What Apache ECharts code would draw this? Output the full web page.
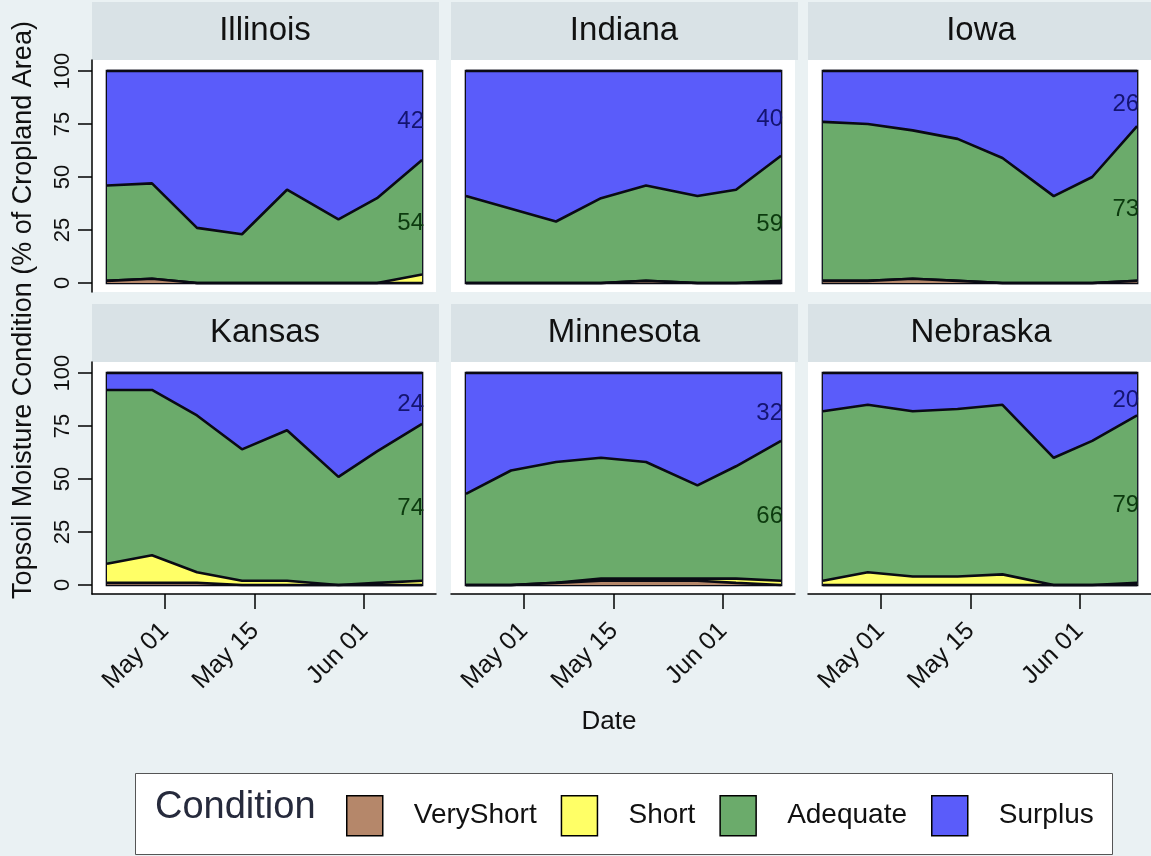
<!DOCTYPE html>
<html><head><meta charset="utf-8">
<script src="https://cdn.jsdelivr.net/npm/echarts@6/dist/echarts.min.js"></script>
<style>html,body{margin:0;padding:0;background:#EAF1F3;} #c{width:1151px;height:856px;}</style>
</head><body><div id="c"></div><script>
// ---------------- data ----------------
const dates = ['2019-04-22','2019-04-29','2019-05-06','2019-05-13','2019-05-20','2019-05-28','2019-06-03','2019-06-10'];
const states = ['Illinois','Indiana','Iowa','Kansas','Minnesota','Nebraska'];
const conditions = ['VeryShort','Short','Adequate','Surplus'];
// one row per state, same order as `states`
const veryShort = [
  [1,2,0,0,0,0,0,0],
  [0,0,0,0,1,0,0,0],
  [1,1,2,1,0,0,0,1],
  [1,1,1,0,0,0,0,0],
  [0,0,1,2,2,2,1,0],
  [0,0,0,0,0,0,0,0]
];
const short = [
  [0,0,0,0,0,0,0,4],
  [0,0,0,0,0,0,0,1],
  [0,0,0,0,0,0,0,0],
  [9,13,5,2,2,0,1,2],
  [0,0,0,1,1,1,2,2],
  [2,6,4,4,5,0,0,1]
];
const adequate = [
  [45,45,26,23,44,30,40,54],
  [41,35,29,40,45,41,44,59],
  [75,74,70,67,59,41,50,73],
  [82,78,74,62,71,51,62,74],
  [43,54,57,57,55,44,53,66],
  [80,79,78,79,80,60,68,79]
];
const surplus = [
  [54,53,74,77,56,70,60,42],
  [59,65,71,60,54,59,56,40],
  [24,25,28,32,41,59,50,26],
  [8,8,20,36,27,49,37,24],
  [57,46,42,40,42,53,44,32],
  [18,15,18,17,15,40,32,20]
];
const xTickDates = ['2019-05-01','2019-05-15','2019-06-01'];
const yTicks = [0,25,50,75,100];
const yTitle = 'Topsoil Moisture Condition (% of Cropland Area)';
const xTitle = 'Date';
const legendTitle = 'Condition';

// ---------------- styling / layout ----------------
const colors = {VeryShort:'#B5876A', Short:'#FFFF66', Adequate:'#6BAB6B', Surplus:'#5A5CFA'};
const seriesData = {VeryShort: veryShort, Short: short, Adequate: adequate, Surplus: surplus};
const FONT = '"Liberation Sans", Arial, Helvetica, sans-serif';
const DAY = 86400000;
const ts = s => Date.UTC(+s.slice(0,4), +s.slice(5,7)-1, +s.slice(8,10));
const MONTHS = ['Jan','Feb','Mar','Apr','May','Jun','Jul','Aug','Sep','Oct','Nov','Dec'];
const fmtDate = v => { const d = new Date(v); return MONTHS[d.getUTCMonth()] + ' ' + String(d.getUTCDate()).padStart(2,'0'); };

const colLeft = [92, 451, 808];
const rowTop = [60, 362];
const gridW = 344, gridH = 232;
const xMin = ts(dates[0]) - 2.33*DAY, xMax = ts(dates[dates.length-1]) + 2.17*DAY;
const yMin = -4.25, yMax = 105.2;
const xTickTs = xTickDates.map(ts);

const grids = [], xAxes = [], yAxes = [], series = [], graphics = [];
states.forEach((st, i) => {
  const row = Math.floor(i/3), col = i%3;
  const left = colLeft[col], top = rowTop[row];
  grids.push({left, top, width: gridW, height: gridH, show: true, backgroundColor: '#fff', borderWidth: 0});
  xAxes.push({
    type: 'value', gridIndex: i, min: xMin, max: xMax, show: row === 1, scale: true,
    axisLine: {show: true, onZero: false, lineStyle: {color: '#000', width: 1.5}},
    axisTick: {show: true, length: 15, customValues: xTickTs, lineStyle: {color: '#000', width: 1.5}},
    axisLabel: {customValues: xTickTs, rotate: 45, fontSize: 25, color: '#111', fontFamily: FONT, margin: 33, formatter: fmtDate},
    splitLine: {show: false}, minorTick: {show: false}
  });
  yAxes.push({
    type: 'value', gridIndex: i, min: yMin, max: yMax, show: col === 0,
    axisLine: {show: true, onZero: false, lineStyle: {color: '#000', width: 1.5}},
    axisTick: {show: true, length: 14, customValues: yTicks, lineStyle: {color: '#000', width: 1.5}},
    axisLabel: {customValues: yTicks, rotate: 90, fontSize: 22, color: '#111', fontFamily: FONT, margin: 18},
    splitLine: {show: false}
  });
  // cumulative stacking (computed from the arrays), drawn top layer first so lower layers overlay it
  const cum = dates.map(() => 0);
  const layers = conditions.map(c => {
    const vals = seriesData[c][i].map((v, k) => (cum[k] += v));
    return {c, vals};
  });
  layers.slice().reverse().forEach((L, order) => {
    series.push({
      type: 'line', name: L.c, xAxisIndex: i, yAxisIndex: i,
      data: dates.map((d, k) => [ts(d), L.vals[k]]),
      symbol: 'none', showSymbol: false,
      lineStyle: {color: '#0A0A14', width: 2.6},
      itemStyle: {color: colors[L.c]},
      areaStyle: {color: colors[L.c], opacity: 1, origin: 'auto'},
      z: 2 + order * 0.01, silent: true, animation: false
    });
  });
  // frame around the data area
  series.push({
    type: 'line', name: 'frame' + i, xAxisIndex: i, yAxisIndex: i, data: [], z: 10, silent: true,
    markArea: {silent: true, itemStyle: {color: 'rgba(0,0,0,0)', borderColor: '#0A0A14', borderWidth: 2.6},
      data: [[{coord: [ts(dates[0]), 0]}, {coord: [ts(dates[dates.length-1]), 100]}]]}
  });
  // end labels
  const n = dates.length - 1;
  const base = veryShort[i][n] + short[i][n];
  const adqMid = base + adequate[i][n] / 2;
  const surMid = base + adequate[i][n] + surplus[i][n] / 2;
  series.push({
    type: 'scatter', name: 'lab' + i, xAxisIndex: i, yAxisIndex: i, symbolSize: 0, z: 11, silent: true,
    itemStyle: {opacity: 1},
    data: [
      {value: [ts(dates[n]), surMid], lab: surplus[i][n], label: {color: '#141470'}},
      {value: [ts(dates[n]), adqMid], lab: adequate[i][n], label: {color: '#0C3A0E'}}
    ],
    label: {show: true, position: 'left', distance: 0, offset: [2, 6], fontSize: 24, fontFamily: FONT,
      formatter: p => String(p.data.lab)},
    animation: false
  });
  // strip header
  graphics.push({type: 'rect', shape: {x: left, y: top - 58, width: gridW + 3, height: 58}, style: {fill: '#D9E2E6'}, z: 0});
  graphics.push({type: 'text', x: left + gridW/2 + 1, y: top - 29, style: {text: st, fontSize: 33, fontFamily: FONT, fill: '#111', textAlign: 'center', textVerticalAlign: 'middle'}, z: 1});
});

graphics.push({type: 'text', x: 24, y: 310, rotation: Math.PI/2, style: {text: yTitle, fontSize: 27, fontFamily: FONT, fill: '#111', textAlign: 'center', textVerticalAlign: 'middle'}});
graphics.push({type: 'text', x: 609, y: 722, style: {text: xTitle, fontSize: 26, fontFamily: FONT, fill: '#111', textAlign: 'center', textVerticalAlign: 'middle'}});
graphics.push({type: 'rect', shape: {x: 135.5, y: 773.5, width: 977, height: 81}, style: {fill: '#fff', stroke: '#555', lineWidth: 1}, z: 0});
graphics.push({type: 'text', x: 155, y: 808, style: {text: legendTitle, fontSize: 38, fontFamily: FONT, fill: '#262A3C', textAlign: 'left', textVerticalAlign: 'middle'}, z: 1});

const chart = echarts.init(document.getElementById('c'), null, {renderer: 'canvas'});
chart.setOption({
  backgroundColor: '#EAF1F3',
  animation: false,
  grid: grids, xAxis: xAxes, yAxis: yAxes, series: series,
  legend: {
    left: 341, top: 790, itemWidth: 36, itemHeight: 40, itemGap: 24, selectedMode: false,
    data: conditions.map(c => ({name: c, icon: 'rect', itemStyle: {color: colors[c], borderColor: '#000', borderWidth: 1.5}})),
    textStyle: {fontSize: 28, fontFamily: FONT, color: '#111', padding: [0, 0, 0, 26]}
  },
  graphic: graphics
});
</script></body></html>
